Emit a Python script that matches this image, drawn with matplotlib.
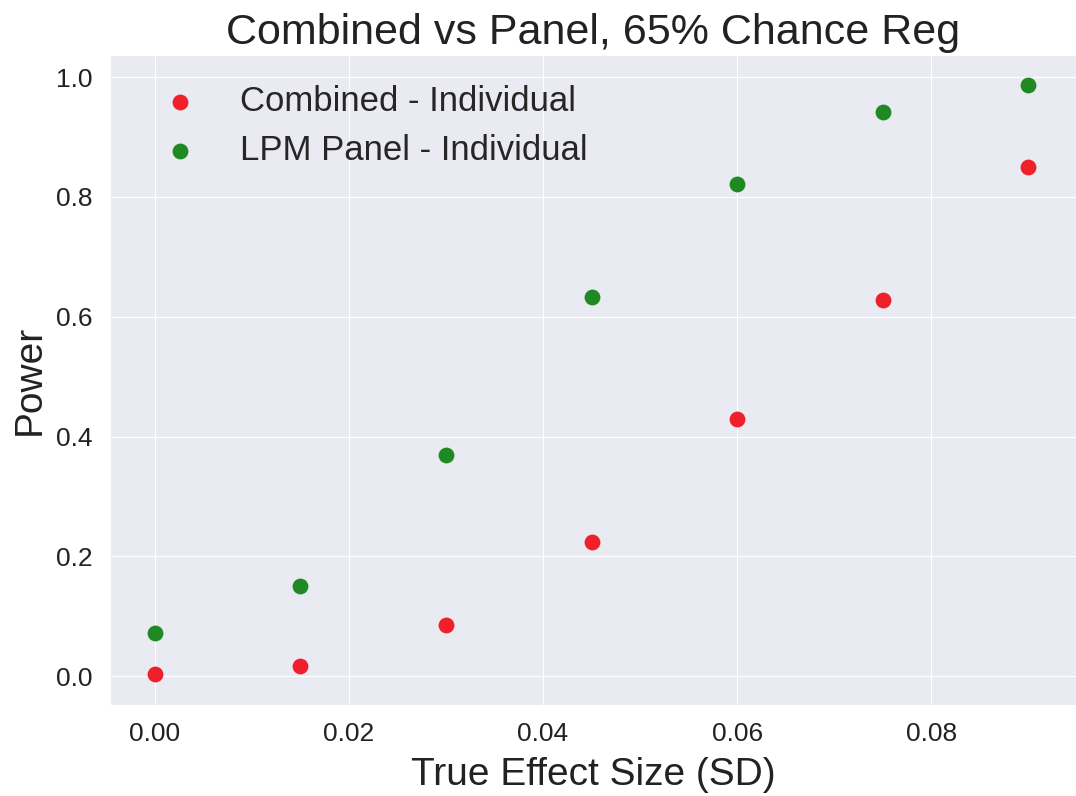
import matplotlib
matplotlib.use("Agg")
import matplotlib.pyplot as plt
import seaborn as sns

effect_sizes = [0.0, 0.015, 0.03, 0.045, 0.06, 0.075, 0.09]
combined_power = [0.003, 0.017, 0.085, 0.224, 0.430, 0.628, 0.850]
lpm_panel_power = [0.073, 0.150, 0.369, 0.633, 0.821, 0.942, 0.987]
x_ticks = [0.00, 0.02, 0.04, 0.06, 0.08]
y_ticks = [0.0, 0.2, 0.4, 0.6, 0.8, 1.0]

sns.set_style("darkgrid", {"axes.facecolor": "#eaeaf2"})
plt.rcParams['font.family'] = ['Liberation Sans', 'DejaVu Sans']

fig = plt.figure(figsize=(10.76, 7.96), dpi=100)
ax = fig.add_axes([110/1076, 91/796, 966/1076, 650/796])

ax.scatter(effect_sizes, combined_power, color="#f0202a", s=130, label="Combined - Individual", zorder=3, linewidths=0)
ax.scatter(effect_sizes, lpm_panel_power, color="#1f8a24", s=130, label="LPM Panel - Individual", zorder=3, linewidths=0)

ax.set_xlim(-0.0046, 0.0949)
ax.set_ylim(-0.048, 1.037)
ax.set_xticks(x_ticks)
ax.set_xticklabels([f"{t:.2f}" for t in x_ticks])
ax.set_yticks(y_ticks)
ax.set_yticklabels([f"{t:.1f}" for t in y_ticks])
ax.tick_params(labelsize=19, colors="#222222", pad=9)
ax.set_xlabel("True Effect Size (SD)", fontsize=28, color="#222222", labelpad=8)
ax.set_ylabel("Power", fontsize=28, color="#222222", labelpad=6)
ax.set_title("Combined vs Panel, 65% Chance Reg", fontsize=31, color="#222222", pad=8)

ax.legend(loc="upper left", fontsize=25, frameon=False, handlelength=2.0, handletextpad=0.73,
          borderaxespad=0.0, labelspacing=0.45, bbox_to_anchor=(0.022, 0.975))

fig.savefig("out.png", dpi=100)
